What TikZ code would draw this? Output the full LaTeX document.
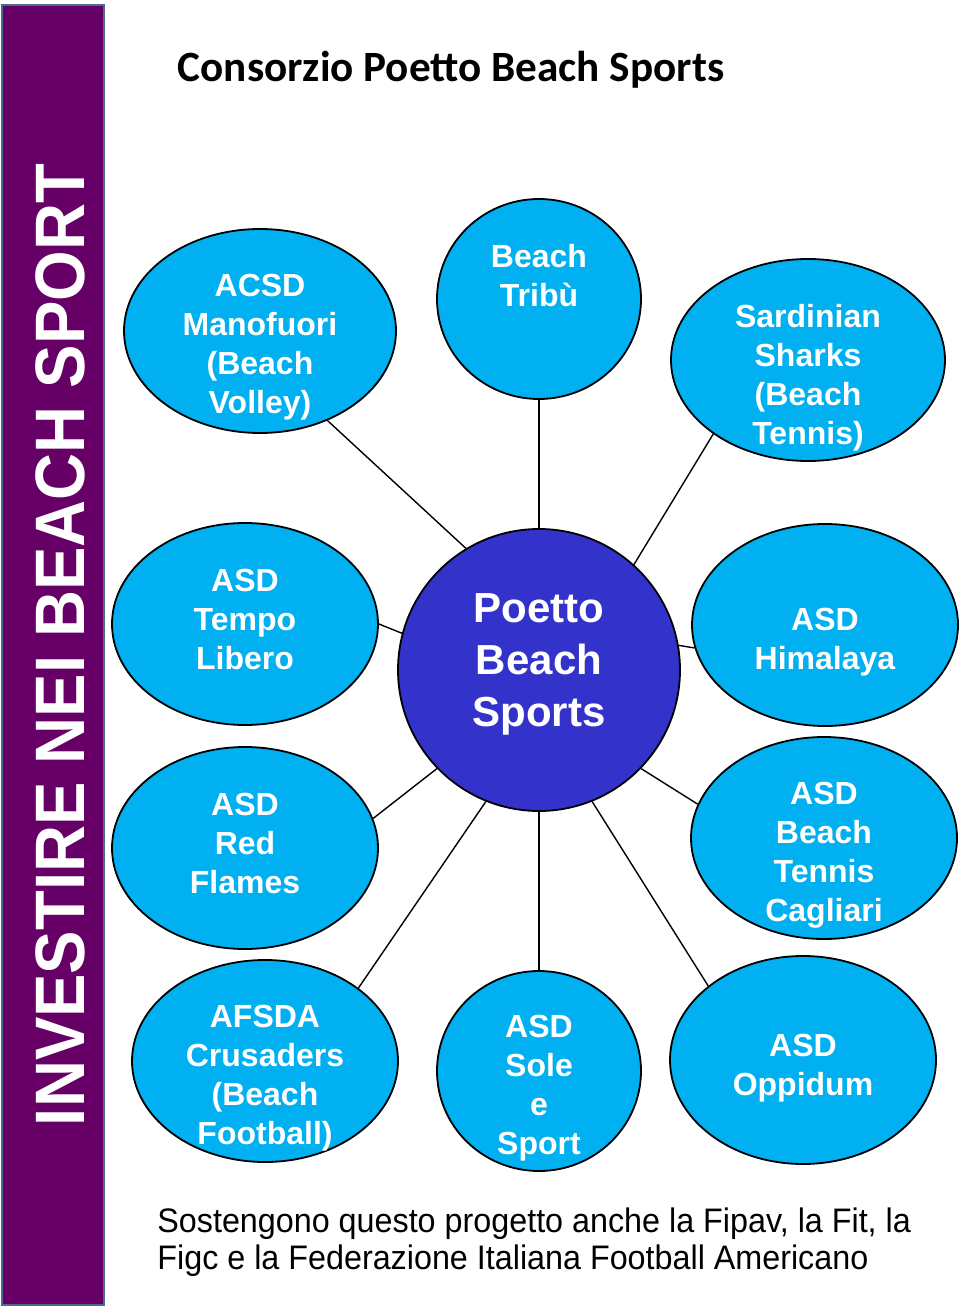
\documentclass[tikz,border=0pt]{standalone}
\usepackage{fontspec}
\setmainfont{Liberation Sans}
\newfontfamily\titlefont{Carlito}
\newfontfamily\narrowfont[FakeStretch=0.95]{Liberation Sans}
\newfontfamily\barfont[FakeStretch=0.93]{Liberation Sans}
\usetikzlibrary{shapes.geometric}

\definecolor{barpurple}{HTML}{660066}
\definecolor{barframe}{HTML}{4F6A92}
\definecolor{clubblue}{HTML}{00B0F0}
\definecolor{hubblue}{HTML}{3333CC}

\begin{document}
\begin{tikzpicture}[x=0.5pt, y=-0.5pt,
  club/.style={ellipse, draw, line width=0.9pt, fill=clubblue, inner sep=0pt, minimum width=133pt, minimum height=101pt},
  roundclub/.style={club, minimum width=102pt, minimum height=100pt},
  clubtxt/.style={align=center, text=white, inner sep=0pt, font=\fontsize{16pt}{19.5pt}\selectfont\bfseries},
  hub/.style={circle, draw, line width=0.9pt, fill=hubblue, inner sep=0pt, minimum size=141pt},
  hubtxt/.style={align=center, text=white, inner sep=0pt, font=\fontsize{21pt}{26pt}\selectfont\bfseries},
  spoke/.style={line width=0.7pt}
]
\useasboundingbox (0,0) rectangle (960,1310);

\node[draw=barframe, line width=1.2pt, fill=barpurple, inner sep=0pt, minimum width=51pt, minimum height=650pt] (bar) at (53,655) {};
\node[rotate=90, text=white, inner sep=0pt, font=\barfont\bfseries\fontsize{35pt}{40pt}\selectfont] (bartitle) at (60,645) {INVESTIRE NEI BEACH SPORT};

\node[inner sep=0pt, font=\titlefont\bfseries\fontsize{21.6pt}{25pt}\selectfont] (title) at (451,70) {Consorzio Poetto Beach Sports};

\node[hub, label={[hubtxt, yshift=3pt]center:{Poetto\\Beach\\Sports}}] (hub) at (539,670) {};

\node[club, minimum width=136pt, minimum height=102pt, label={[clubtxt, yshift=-8pt]center:{ACSD\\Manofuori\\(Beach\\Volley)}}] (manofuori) at (260,331) {};
\node[roundclub, label={[clubtxt, yshift=11.5pt]center:{Beach\\Tribù}}] (tribu) at (539,299) {};
\node[club, minimum width=137pt, label={[clubtxt, yshift=-9pt]center:{Sardinian\\Sharks\\(Beach\\Tennis)}}] (sharks) at (808,360) {};
\node[club, label={[clubtxt, yshift=2.5pt]center:{ASD\\Tempo\\Libero}}] (tempo) at (245,624) {};
\node[club, label={[clubtxt, yshift=-8.5pt]center:{ASD\\Himalaya}}] (himalaya) at (825,625) {};
\node[club, label={[clubtxt, yshift=2.5pt]center:{ASD\\Red\\Flames}}] (flames) at (245,848) {};
\node[club, label={[clubtxt, yshift=-8.5pt]center:{ASD\\Beach\\Tennis\\Cagliari}}] (cagliari) at (824,838) {};
\node[club, label={[clubtxt, yshift=-8.5pt]center:{AFSDA\\Crusaders\\(Beach\\Football)}}] (crusaders) at (265,1061) {};
\node[roundclub, label={[clubtxt, yshift=-8.5pt]center:{ASD\\Sole\\e\\Sport}}] (sole) at (539,1071) {};
\node[club, minimum height=104pt, label={[clubtxt, yshift=-4pt]center:{ASD\\Oppidum}}] (oppidum) at (803,1060) {};

\draw[spoke] (hub.121) -- (manofuori.-53);
\draw[spoke] (hub.90) -- (tribu.-90);
\draw[spoke] (hub.48) -- (sharks.-142);
\draw[spoke] (hub.165) -- (tempo.0);
\draw[spoke] (hub.10) -- (himalaya.190);
\draw[spoke] (hub.-136) -- (flames.13);
\draw[spoke] (hub.-44) -- (cagliari.165);
\draw[spoke] (hub.-112) -- (crusaders.38);
\draw[spoke] (hub.-90) -- (sole.90);
\draw[spoke] (hub.-68) -- (oppidum.142);

\node[anchor=west, align=left, inner sep=0pt, font=\narrowfont\fontsize{17pt}{18.5pt}\selectfont] (support) at (157,1242) {Sostengono questo progetto anche la Fipav, la Fit, la\\Figc e la Federazione Italiana Football Americano};

\end{tikzpicture}
\end{document}
